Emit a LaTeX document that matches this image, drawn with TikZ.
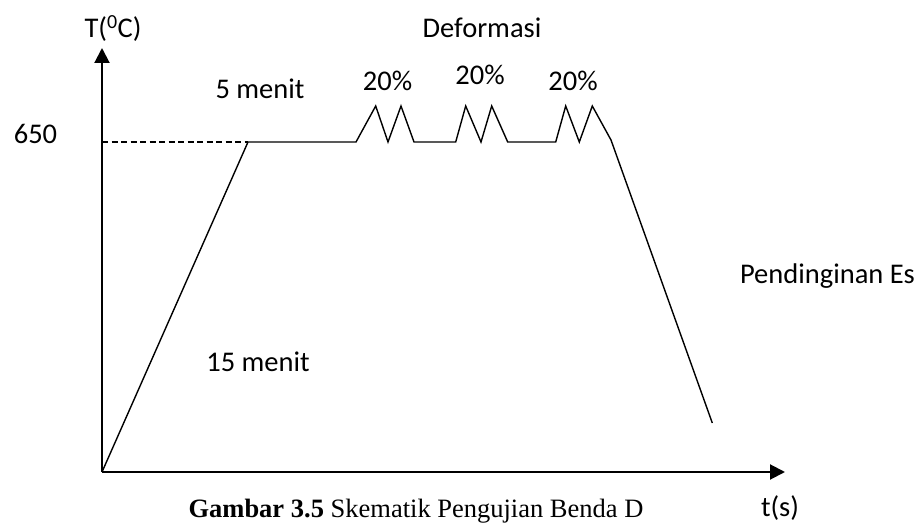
\documentclass[tikz,border=0pt]{standalone}
\usepackage{fontspec}
\setmainfont{Carlito}
\newfontfamily\capfont{Liberation Serif}
\usetikzlibrary{arrows.meta}
\tikzset{
  axisline/.style={line width=2pt, -{Triangle[length=15pt,width=15pt]}},
  curve/.style={line width=1.4pt, line join=miter},
  guide/.style={line width=1.3pt, dash pattern=on 6pt off 3.5pt},
  lbl/.style={inner sep=0pt, anchor=base, font=\fontsize{28.5}{34}\selectfont},
  caption/.style={inner sep=0pt, anchor=base, font=\capfont\fontsize{26.5}{32}\selectfont}
}
\begin{document}
\begin{tikzpicture}[x=1pt, y=-1pt]
\useasboundingbox (0,0) rectangle (924,526);
\fill[white] (0,0) rectangle (924,526);

% axes
\coordinate (O) at (102,472);
\coordinate (Ytop) at (102,48);
\coordinate (Xend) at (785,472);
\draw[axisline] (O) -- (Ytop);
\draw[axisline] (O) -- (Xend);

% temperature profile
\coordinate (H) at (248,142);
\coordinate (Y650) at (102,142);
\draw[guide] (Y650) -- (H);
\draw[curve] (O) -- (H) -- (356,142)
  -- (375.7,106) -- (388,142) -- (401,106) -- (414,142)
  -- (455.7,142)
  -- (465.7,106) -- (481,142) -- (491.7,106) -- (507.7,142)
  -- (555.7,142)
  -- (565.7,106) -- (579.3,142) -- (592.3,106) -- (611,140)
  -- (712.3,423) coordinate (E);

% labels
\node[lbl] (ylab) at (113,38) {T(\textsuperscript{0}C)};
\node[lbl] (xlab) at (780,516) {t(s)};
\node[lbl] (t650) at (35.5,144) {650};
\node[lbl] (def) at (482,38) {Deformasi};
\node[lbl] (hold) at (260,99) {5 menit};
\node[lbl] (p1) at (387.5,91) {20\%};
\node[lbl] (p2) at (480,85) {20\%};
\node[lbl] (p3) at (573,91) {20\%};
\node[lbl] (heat) at (258,372) {15 menit};
\node[lbl] (cool) at (827.5,284) {Pendinginan Es};
\node[caption] (cap) at (416,517) {\textbf{Gambar 3.5} Skematik Pengujian Benda D};
\end{tikzpicture}
\end{document}
